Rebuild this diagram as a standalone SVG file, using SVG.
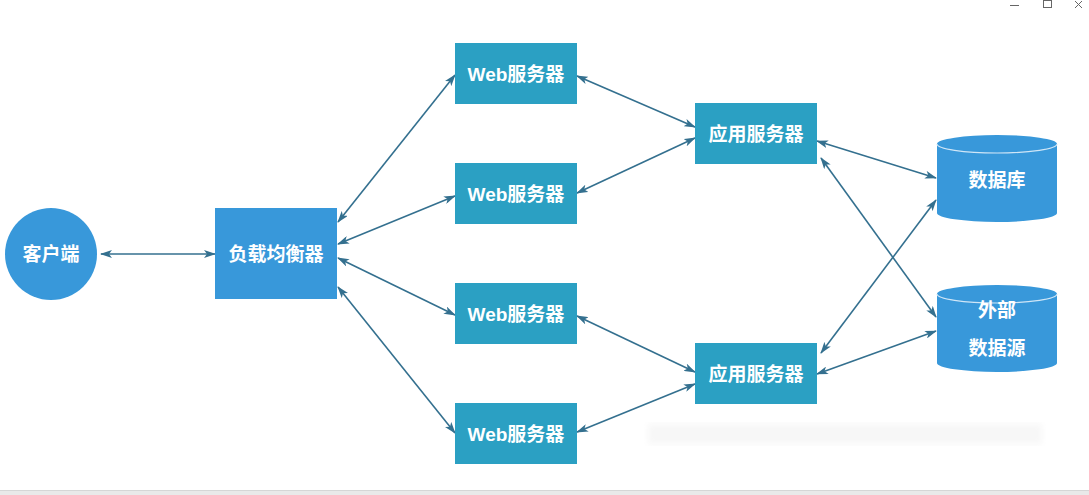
<svg xmlns="http://www.w3.org/2000/svg" width="1089" height="495" viewBox="0 0 1089 495">
<style>
.lbl{font-family:"Liberation Sans","Noto Sans CJK SC",sans-serif;font-weight:bold;font-size:19px;fill:#ffffff;text-anchor:middle;dominant-baseline:central}
.web{fill:#2ba0c3}
.blue{fill:#3898da}
.con line{stroke:#34708f;stroke-width:1.6;marker-start:url(#ah);marker-end:url(#ah)}
.win{stroke:#666;stroke-width:1;fill:none}
</style>
<defs>
<marker id="ah" viewBox="0 0 12 8" refX="11" refY="4" markerWidth="12" markerHeight="8" markerUnits="userSpaceOnUse" orient="auto-start-reverse">
<path d="M0,0 L12,4 L0,8 L3,4 Z" fill="#34708f"/>
</marker>
<filter id="bl"><feGaussianBlur stdDeviation="3"/></filter>
</defs>
<rect width="1089" height="495" fill="#ffffff"/>
<g id="window-controls">
<line class="win" x1="1010" y1="5.5" x2="1019" y2="5.5"/>
<rect class="win" x="1043.5" y="0.5" width="8" height="7"/>
<line class="win" x1="1075" y1="1" x2="1082" y2="8"/>
<line class="win" x1="1082" y1="1" x2="1075" y2="8"/>
</g>
<rect x="648" y="424" width="394" height="20" fill="#f7f7f7" filter="url(#bl)"/>
<rect x="0" y="490" width="1089" height="5" fill="#e9e9e9"/>
<line x1="0" y1="490.5" x2="1089" y2="490.5" stroke="#d6d6d6"/>
<g id="connectors" class="con">
<line x1="101" y1="254" x2="215" y2="254"/>
<line x1="338" y1="222" x2="455" y2="75"/>
<line x1="338" y1="244" x2="455" y2="196"/>
<line x1="338" y1="258" x2="455" y2="315"/>
<line x1="338" y1="287" x2="455" y2="433"/>
<line x1="577" y1="76" x2="695" y2="127"/>
<line x1="577" y1="193" x2="695" y2="138"/>
<line x1="577" y1="316" x2="695" y2="372"/>
<line x1="577" y1="432" x2="695" y2="384"/>
<line x1="817" y1="141" x2="936" y2="178"/>
<line x1="821" y1="158" x2="936" y2="317"/>
<line x1="821" y1="353" x2="936" y2="200"/>
<line x1="817" y1="374" x2="936" y2="331"/>
</g>
<g id="client">
<circle class="blue" cx="51" cy="254" r="46"/>
<text class="lbl" x="51" y="254">客户端</text>
</g>
<g id="load-balancer">
<rect class="blue" x="215" y="208" width="122" height="91"/>
<text class="lbl" x="276" y="254">负载均衡器</text>
</g>
<g id="web1">
<rect class="web" x="455" y="43" width="122" height="61"/>
<text class="lbl" x="516" y="74">Web服务器</text>
</g>
<g id="web2">
<rect class="web" x="455" y="163" width="122" height="61"/>
<text class="lbl" x="516" y="194">Web服务器</text>
</g>
<g id="web3">
<rect class="web" x="455" y="283" width="122" height="61"/>
<text class="lbl" x="516" y="314">Web服务器</text>
</g>
<g id="web4">
<rect class="web" x="455" y="403" width="122" height="61"/>
<text class="lbl" x="516" y="434">Web服务器</text>
</g>
<g id="app1">
<rect class="web" x="695" y="103" width="122" height="61"/>
<text class="lbl" x="756" y="134">应用服务器</text>
</g>
<g id="app2">
<rect class="web" x="695" y="343" width="122" height="61"/>
<text class="lbl" x="756" y="374">应用服务器</text>
</g>
<g id="database">
<path class="blue" d="M937,144 A60,9 0 0 1 1057,144 L1057,213 A60,9 0 0 1 937,213 Z"/>
<path d="M937,144 A60,9 0 0 0 1057,144" fill="none" stroke="#cfe6f7" stroke-width="1.2"/>
<text class="lbl" x="997" y="180">数据库</text>
</g>
<g id="external-source">
<path class="blue" d="M937,294 A60,9 0 0 1 1057,294 L1057,363 A60,9 0 0 1 937,363 Z"/>
<path d="M937,294 A60,9 0 0 0 1057,294" fill="none" stroke="#cfe6f7" stroke-width="1.2"/>
<text class="lbl" x="997" y="310">外部</text>
<text class="lbl" x="997" y="348">数据源</text>
</g>
</svg>
